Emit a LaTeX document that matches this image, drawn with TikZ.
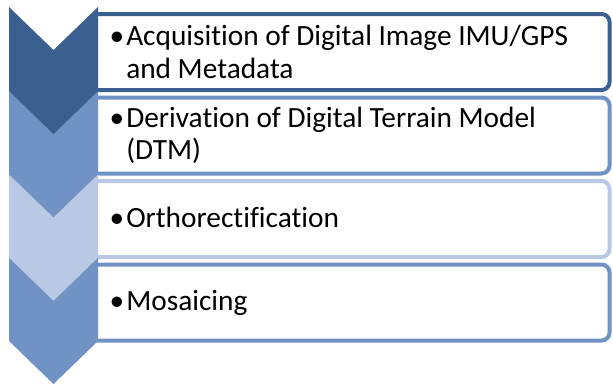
\documentclass[tikz,border=0pt]{standalone}
\usepackage{fontspec}
\setmainfont[Ligatures=NoCommon]{Carlito}
\definecolor{cdark}{RGB}{59,95,143}
\definecolor{cmid}{RGB}{112,146,196}
\definecolor{clight}{RGB}{185,201,227}
\begin{document}
\begin{tikzpicture}[x=0.75pt,y=-0.75pt,
  chev/.pic={\fill (-44.5,0) -- (0,43) -- (44.5,0) -- (44.5,84) -- (0,127) -- (-44.5,84) -- cycle;},
  boxn/.style={draw=none, inner sep=0pt, minimum width=384.75pt, minimum height=56.6pt, anchor=north west},
  frame/.style={line width=3pt, rounded corners=6pt},
  txt/.style={anchor=west, inner sep=0pt, align=left, text=black, font=\fontsize{22pt}{24.2pt}\selectfont, xshift=22.5pt}]
\useasboundingbox (0,0) rectangle (613,383);
% boxes
\node[boxn] (b1) at (96,14) {};
\node[boxn] (b2) at (96,97.5) {};
\node[boxn] (b3) at (96,181) {};
\node[boxn] (b4) at (96,264.5) {};
\draw[frame, cdark] (b1.north west) -- (b1.north east) -- (b1.south east) -- (b1.south west);
\draw[frame, cmid] (b2.north west) -- (b2.north east) -- (b2.south east) -- (b2.south west);
\draw[frame, clight] (b3.north west) -- (b3.north east) -- (b3.south east) -- (b3.south west);
\draw[frame, cmid] (b4.north west) -- (b4.north east) -- (b4.south east) -- (b4.south west);
% chevrons
\pic[fill=cmid] at (53.5,257) {chev};
\pic[fill=clight] at (53.5,173.7) {chev};
\pic[fill=cmid] at (53.5,90.3) {chev};
\pic[fill=cdark] at (53.5,7) {chev};
% texts
\node[txt] (t1) at (b1.west) {\llap{•\kern1.5pt}Acquisition of Digital Image IMU/GPS\\and Metadata};
\node[txt] (t2) at (b2.west) {\llap{•\kern1.5pt}Derivation of Digital Terrain Model\\(DTM)};
\node[txt, yshift=1.5pt] (t3) at (b3.west) {\llap{•\kern1.5pt}Orthorectification};
\node[txt] (t4) at (b4.west) {\llap{•\kern1.5pt}Mosaicing};
\end{tikzpicture}
\end{document}
